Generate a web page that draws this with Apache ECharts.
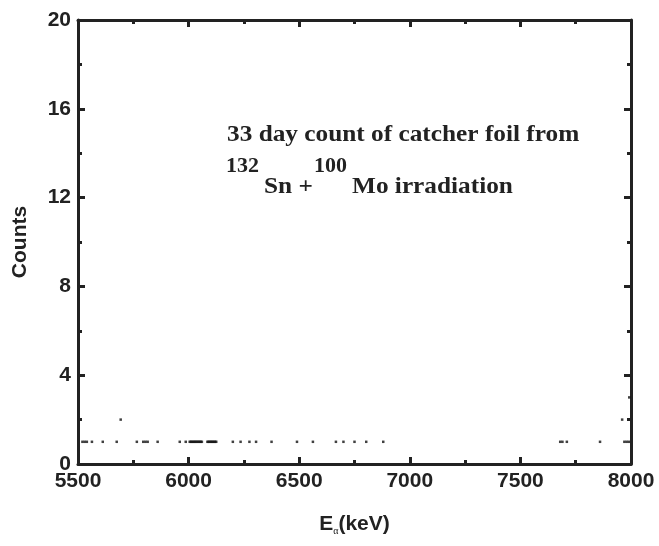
<!DOCTYPE html>
<html>
<head>
<meta charset="utf-8">
<script src="https://cdn.jsdelivr.net/npm/echarts@6/dist/echarts.min.js"></script>
<style>
  html, body { margin: 0; padding: 0; background: #fff; }
  #chart { width: 659px; height: 546px; }
</style>
</head>
<body>
<div id="chart"></div>
<script>
// Alpha energies (keV) of channels holding 1, 2 and 3 counts
const energiesCount1 = [
  5520, 5530, 5540, 5563, 5612, 5675, 5766, 5795, 5805, 5815, 5860,
  5960, 5987, 6005, 6010, 6015, 6020, 6025, 6030, 6035, 6040, 6045, 6050, 6055, 6060,
  6085, 6090, 6095, 6100, 6105, 6110, 6115, 6120, 6125,
  6200, 6235, 6275, 6305, 6375, 6490, 6562, 6666, 6700, 6750, 6803, 6880,
  7680, 7690, 7710, 7860, 7970, 7980, 7990
];
const energiesCount2 = [5693, 7960];
const energiesCount3 = [7992];

const xTicks = { min: 5500, max: 8000, step: 500 };
const yTicks = { min: 0, max: 20, step: 4 };

const points = []
  .concat(energiesCount1.map(e => [e, 1]))
  .concat(energiesCount2.map(e => [e, 2]))
  .concat(energiesCount3.map(e => [e, 3]));

const axisColor = '#222';
const labelFont = { fontFamily: 'Liberation Sans, Arial, sans-serif', fontWeight: 'bold', fontSize: 21, color: '#222' };
const serif = '"Liberation Serif", "Times New Roman", serif';

function frameAxis(position, isX, showLabels) {
  const r = isX ? xTicks : yTicks;
  return {
    type: 'value',
    position: position,
    min: r.min, max: r.max, interval: r.step,
    splitLine: { show: false },
    axisLine: { show: true, onZero: false, lineStyle: { color: axisColor, width: 3 } },
    axisTick: { show: true, inside: true, length: 7, lineStyle: { color: axisColor, width: 3 } },
    minorTick: { show: true, splitNumber: 2, length: 4, lineStyle: { color: axisColor, width: 3 } },
    axisLabel: Object.assign({ show: showLabels, margin: 7, formatter: v => String(v) }, labelFont)
  };
}

// Annotation pieces: main text and nuclide mass-number superscripts
function note(text, x, y, size) {
  return {
    type: 'text', x: x, y: y, scaleX: 1.1,
    style: {
      text: text,
      font: 'bold ' + size + 'px ' + serif,
      fill: '#222',
      textAlign: 'left', textVerticalAlign: 'top'
    }
  };
}

const chart = echarts.init(document.getElementById('chart'), null, { renderer: 'canvas' });
chart.setOption({
  animation: false,
  backgroundColor: '#fff',
  grid: { left: 78, right: 28, top: 20, bottom: 82 },
  xAxis: [
    Object.assign(frameAxis('bottom', true, true), {
      name: '{e|E}{s|α}{e|(keV)}',
      nameLocation: 'middle',
      nameGap: 48,
      nameTextStyle: {
        rich: {
          e: { fontFamily: 'Liberation Sans, Arial, sans-serif', fontWeight: 'bold', fontSize: 21, color: '#222' },
          s: { fontFamily: 'Liberation Serif, serif', fontSize: 10, color: '#222', verticalAlign: 'bottom', padding: [14, 0, 0, 0] }
        }
      }
    }),
    frameAxis('top', true, false)
  ],
  yAxis: [
    Object.assign(frameAxis('left', false, true), {
      name: 'Counts',
      nameLocation: 'middle',
      nameGap: 47,
      nameTextStyle: labelFont
    }),
    frameAxis('right', false, false)
  ],
  graphic: [
    note('33 day count of catcher foil from', 227, 124, 23),
    note('132', 226, 157, 20),
    note('Sn +', 264, 176, 23),
    note('100', 314, 157, 20),
    note('Mo irradiation', 352, 176, 23)
  ],
  series: [{
    type: 'scatter',
    xAxisIndex: 0, yAxisIndex: 0,
    data: points,
    symbol: 'rect',
    symbolSize: [2.5, 2.5],
    itemStyle: { color: '#111' },
    silent: true
  }]
});
</script>
</body>
</html>
